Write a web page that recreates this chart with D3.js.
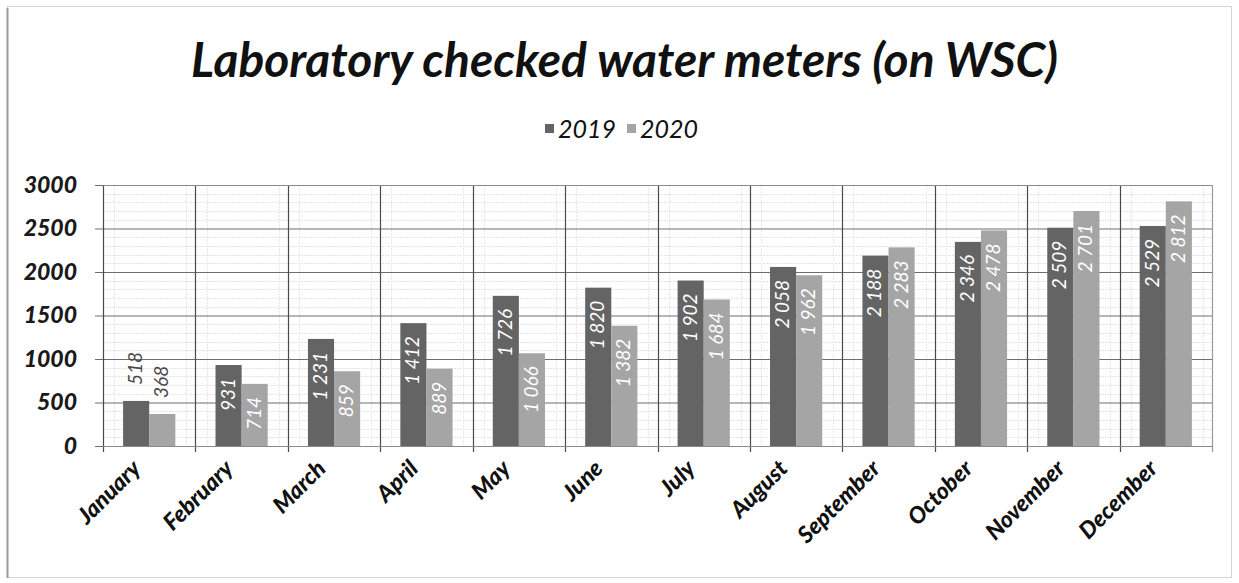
<!DOCTYPE html>
<html>
<head>
<meta charset="utf-8">
<script src="https://cdn.jsdelivr.net/npm/d3@7"></script>
<style>
  body { margin: 0; background: #fff; }
  svg { display: block; }
  text { font-family: Lato, "Open Sans", sans-serif; }
</style>
</head>
<body>
<div id="chart"></div>
<script>
// data
const months = ["January", "February", "March", "April", "May", "June",
    "July", "August", "September", "October", "November", "December"];
const years = ["2019", "2020"];
const values2019 = [518, 931, 1231, 1412, 1726, 1820, 1902, 2058, 2188, 2346, 2509, 2529];
const values2020 = [368, 714, 859, 889, 1066, 1382, 1684, 1962, 2283, 2478, 2701, 2812];
const yTicks = [0, 500, 1000, 1500, 2000, 2500, 3000];
const colors = ["#646464", "#a5a5a5"];

const W = 1239, H = 583;
const plot = { left: 103, right: 1212, top: 185, bottom: 446 };

const svg = d3.select("#chart")
    .append("svg")
    .attr("width", W)
    .attr("height", H);

// outer frame
svg.append("rect")
    .attr("x", 7.5).attr("y", 6.5)
    .attr("width", 1224).attr("height", 571)
    .attr("fill", "#fff")
    .attr("stroke", "#d4d4d4");
svg.append("line")
    .attr("x1", 7.5).attr("x2", 7.5).attr("y1", 8).attr("y2", 578)
    .attr("stroke", "#9a9a9a").attr("stroke-width", 2);

const x = d3.scaleBand()
    .domain(months)
    .range([plot.left, plot.right])
    .padding(0);

const x1 = d3.scaleBand()
    .domain(years)
    .range([0, x.bandwidth()])
    .paddingInner(0)
    .paddingOuter(0.77);

const y = d3.scaleLinear()
    .domain([0, 3000])
    .range([plot.bottom, plot.top]);

// minor grid
const minor = d3.range(100, 3000, 100).filter(v => v % 500 !== 0);
svg.append("g").selectAll("line")
    .data(minor)
    .enter().append("line")
    .attr("x1", plot.left).attr("x2", plot.right)
    .attr("y1", d => Math.round(y(d)) + 0.5)
    .attr("y2", d => Math.round(y(d)) + 0.5)
    .attr("stroke", "#e4e4e4")
    .attr("stroke-dasharray", "2,1");

const minorX = [];
months.forEach(m => {
    [0.12, 0.9].forEach(f => minorX.push(x(m) + x.bandwidth() * f));
});
svg.append("g").selectAll("line")
    .data(minorX)
    .enter().append("line")
    .attr("x1", d => Math.round(d) + 0.5).attr("x2", d => Math.round(d) + 0.5)
    .attr("y1", plot.top).attr("y2", plot.bottom)
    .attr("stroke", "#e8e8e8")
    .attr("stroke-dasharray", "2,1");

// major horizontal grid with y axis ticks
const yAxis = d3.axisLeft(y)
    .tickValues(yTicks)
    .tickSize(-(plot.right - plot.left + 8))
    .tickPadding(18)
    .tickFormat(d3.format("d"));

const gy = svg.append("g")
    .attr("transform", `translate(${plot.left - 8},0)`)
    .call(yAxis);
gy.select(".domain").remove();
gy.selectAll(".tick line")
    .attr("stroke", "#6e6e6e")
    .attr("stroke-width", 1.2);
gy.selectAll(".tick text")
    .attr("fill", "#1a1a1a")
    .style("font-size", "23px")
    .style("font-weight", "900")
    .style("font-style", "italic");

// vertical category boundaries
const bounds = months.map(m => x(m)).concat([plot.right]);
svg.append("g").selectAll("line")
    .data(bounds)
    .enter().append("line")
    .attr("x1", d => Math.round(d) + 0.5).attr("x2", d => Math.round(d) + 0.5)
    .attr("y1", plot.top).attr("y2", plot.bottom + 6)
    .attr("stroke", (d, i) => i === bounds.length - 1 ? "#9a9a9a" : "#4a4a4a")
    .attr("stroke-width", 1.2);

// plot frame top
svg.append("line")
    .attr("x1", plot.left).attr("x2", plot.right)
    .attr("y1", plot.top + 0.5).attr("y2", plot.top + 0.5)
    .attr("stroke", "#8a8a8a");

// bars
const rows = months.map((m, i) => ({ month: m, vals: [values2019[i], values2020[i]] }));

const groups = svg.append("g").selectAll("g")
    .data(rows)
    .enter().append("g")
    .attr("transform", d => `translate(${x(d.month)},0)`);

const bars = groups.selectAll("g")
    .data(d => d.vals.map((v, j) => ({ year: years[j], value: v, j: j })))
    .enter().append("g");

bars.append("rect")
    .attr("x", d => x1(d.year))
    .attr("y", d => y(d.value))
    .attr("width", x1.bandwidth())
    .attr("height", d => y(0) - y(d.value))
    .attr("fill", d => colors[d.j]);

// axis line
svg.append("line")
    .attr("x1", plot.left).attr("x2", plot.right)
    .attr("y1", plot.bottom + 0.5).attr("y2", plot.bottom + 0.5)
    .attr("stroke", "#8a8a8a")
    .attr("stroke-width", 1.2);

// value labels
const fmt = v => d3.format(",")(v).replace(",", " ");
bars.append("text")
    .text(d => fmt(d.value))
    .style("font-size", "19px")
    .style("font-style", "italic")
    .style("white-space", "pre")
    .each(function(d) {
        const len = this.getComputedTextLength();
        const h = y(0) - y(d.value);
        const cx = x1(d.year) + x1.bandwidth() / 2 + 6;
        const sel = d3.select(this);
        if (len + 24 > h) {
            sel.attr("text-anchor", "start")
                .attr("fill", "#4a4a4a")
                .attr("transform", `translate(${cx},${y(d.value) - 16}) rotate(-90)`);
        } else {
            sel.attr("text-anchor", "end")
                .attr("fill", "#ffffff")
                .attr("transform", `translate(${cx},${y(d.value) + 13}) rotate(-90)`);
        }
    });

// x labels
svg.append("g").selectAll("text")
    .data(months)
    .enter().append("text")
    .attr("text-anchor", "end")
    .attr("transform", d => `translate(${x(d) + x.bandwidth() / 2 - 7},${plot.bottom + 24}) rotate(-45)`)
    .style("font-size", "23px")
    .style("font-weight", "900")
    .style("font-style", "italic")
    .attr("fill", "#111")
    .text(d => d);

// title
const title = svg.append("text")
    .attr("x", 191)
    .attr("y", 77)
    .attr("fill", "#111")
    .style("font-size", "44px")
    .style("font-weight", "bold")
    .style("font-style", "italic")
    .text("Laboratory checked water meters (on WSC)");
const tl = title.node().getComputedTextLength();
title.style("font-size", (44 * 867 / tl) + "px");

// legend
const legend = svg.append("g").attr("transform", "translate(545,0)");
const legendX = [0, 82];
years.forEach((yr, i) => {
    legend.append("rect")
        .attr("x", legendX[i]).attr("y", 124)
        .attr("width", 9).attr("height", 9)
        .attr("fill", colors[i]);
    legend.append("text")
        .attr("x", legendX[i] + 13).attr("y", 138)
        .attr("fill", "#111")
        .style("font-size", "25px")
        .style("font-style", "italic")
        .text(yr);
});
</script>
</body>
</html>
